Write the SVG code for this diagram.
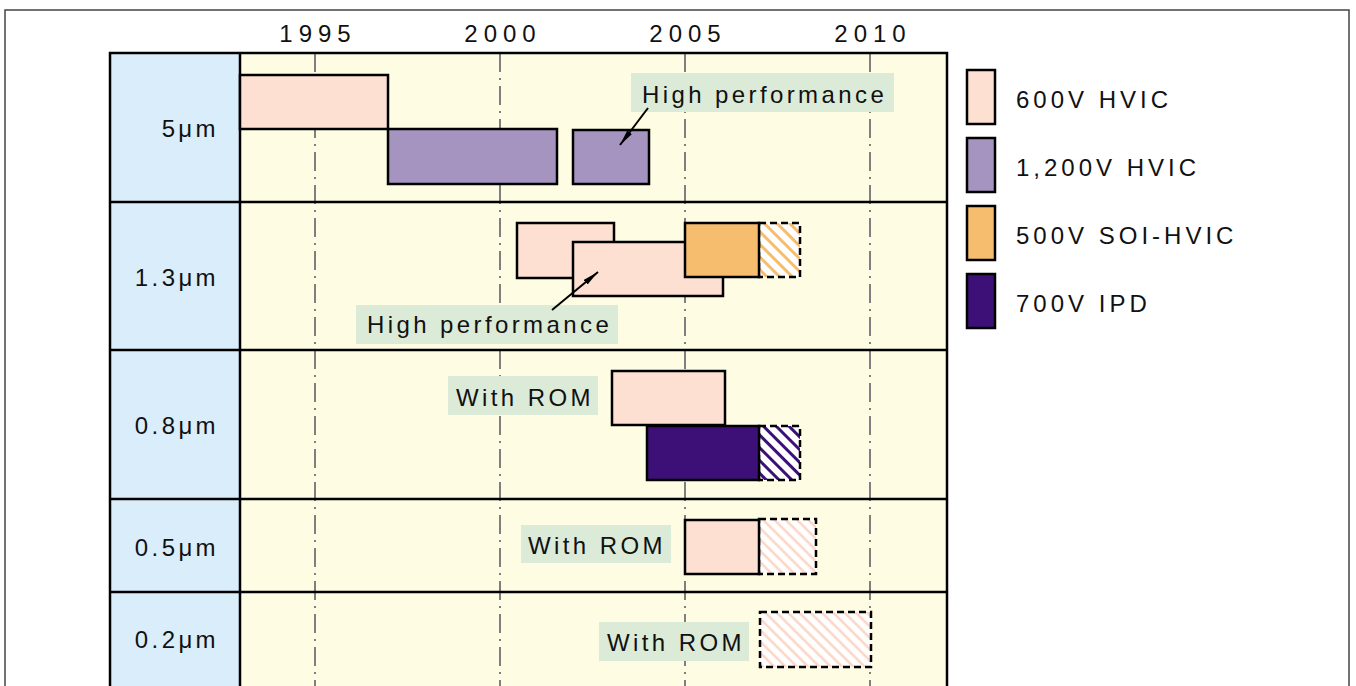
<svg xmlns="http://www.w3.org/2000/svg" width="1356" height="686" viewBox="0 0 1356 686">
<style>
text{font-family:"Liberation Sans",Arial,sans-serif;font-size:24px;fill:#111}
.yr{letter-spacing:6px}
.rl{letter-spacing:3.4px;text-anchor:end}
.lg{letter-spacing:4px}
.lb{letter-spacing:3.4px}
.box{stroke:#000;stroke-width:2.5}
.hat{stroke:#000;stroke-width:2.5;stroke-dasharray:7 4}
.p6{fill:#FDE0D1}
.p12{fill:#A593C0}
.soi{fill:#F6BD6E}
.ipd{fill:#3D1077}
.tag{fill:#DCEBD8}
.grid{stroke:#7f7f7f;stroke-width:2;stroke-dasharray:19 6 2 6}
.rowline{stroke:#000;stroke-width:2.5}
</style>
<defs>
<pattern id="hOr" width="9" height="9" patternUnits="userSpaceOnUse" patternTransform="rotate(45)">
<rect width="9" height="9" fill="#fff"/><line x1="0" y1="4.5" x2="9" y2="4.5" stroke="#F6BD6E" stroke-width="3"/>
</pattern>
<pattern id="hIpd" width="9" height="9" patternUnits="userSpaceOnUse" patternTransform="rotate(45)">
<rect width="9" height="9" fill="#fff"/><line x1="0" y1="4.5" x2="9" y2="4.5" stroke="#3D1077" stroke-width="3"/>
</pattern>
<pattern id="hPk" width="8" height="8" patternUnits="userSpaceOnUse" patternTransform="rotate(45)">
<rect width="8" height="8" fill="#fff"/><line x1="0" y1="4" x2="8" y2="4" stroke="#FAD6C6" stroke-width="2.5"/>
</pattern>
<marker id="ah" viewBox="0 0 16 6" refX="16" refY="3" markerWidth="16" markerHeight="6" markerUnits="userSpaceOnUse" orient="auto">
<path d="M0,0 L16,3 L0,6 z" fill="#000"/>
</marker>
</defs>

<rect x="5" y="10" width="1344" height="700" fill="#fff" stroke="#444" stroke-width="1.5"/>

<g id="table">
<rect x="240" y="53" width="707" height="660" fill="#FEFCE3"/>
<rect x="110" y="53" width="130" height="660" fill="#DAEDFB"/>
<line class="grid" x1="315" y1="53" x2="315" y2="686"/>
<line class="grid" x1="500" y1="53" x2="500" y2="686"/>
<line class="grid" x1="685" y1="53" x2="685" y2="686"/>
<line class="grid" x1="870" y1="53" x2="870" y2="686"/>
<line class="rowline" x1="110" y1="202" x2="947" y2="202"/>
<line class="rowline" x1="110" y1="350" x2="947" y2="350"/>
<line class="rowline" x1="110" y1="499" x2="947" y2="499"/>
<line class="rowline" x1="110" y1="592" x2="947" y2="592"/>
<line class="rowline" x1="240" y1="53" x2="240" y2="690"/>
<rect x="110" y="53" width="837" height="660" fill="none" stroke="#000" stroke-width="2.5"/>
</g>

<g id="years">
<text class="yr" x="318" y="42" text-anchor="middle">1995</text>
<text class="yr" x="503" y="42" text-anchor="middle">2000</text>
<text class="yr" x="688" y="42" text-anchor="middle">2005</text>
<text class="yr" x="873" y="42" text-anchor="middle">2010</text>
</g>

<g id="rowlabels">
<text class="rl" x="219" y="137">5μm</text>
<text class="rl" x="219" y="286">1.3μm</text>
<text class="rl" x="219" y="434">0.8μm</text>
<text class="rl" x="219" y="556">0.5μm</text>
<text class="rl" x="219" y="648">0.2μm</text>
</g>

<g id="row-5um">
<rect class="box p6" x="240" y="75" width="148" height="54"/>
<rect class="box p12" x="388" y="129" width="169" height="55"/>
<rect class="box p12" x="573" y="130" width="76" height="54"/>
<rect class="tag" x="631" y="73" width="263" height="39"/>
<text class="lb" x="642" y="103">High performance</text>
</g>

<g id="row-13um">
<rect class="hat" x="759" y="223" width="41" height="54" fill="url(#hOr)"/>
<rect class="box p6" x="517" y="223" width="97" height="55"/>
<rect class="box p6" x="573" y="242" width="150" height="54"/>
<rect class="box soi" x="685" y="223" width="74" height="54"/>
<rect class="tag" x="356" y="305" width="262" height="39"/>
<text class="lb" x="367" y="333">High performance</text>
</g>

<g id="row-08um">
<rect class="tag" x="448" y="376" width="150" height="39"/>
<text class="lb" x="456" y="406">With ROM</text>
<rect class="hat" x="759" y="426" width="41" height="54" fill="url(#hIpd)"/>
<rect class="box p6" x="612" y="371" width="113" height="54"/>
<rect class="box ipd" x="647" y="426" width="112" height="54"/>
</g>

<g id="row-05um">
<rect class="tag" x="521" y="525" width="150" height="38"/>
<text class="lb" x="528" y="554">With ROM</text>
<rect class="hat" x="759" y="519" width="57" height="55" fill="url(#hPk)"/>
<rect class="box p6" x="685" y="520" width="74" height="54"/>
</g>

<g id="row-02um">
<rect class="tag" x="599" y="622" width="150" height="39"/>
<text class="lb" x="607" y="651">With ROM</text>
<rect class="hat" x="760" y="612" width="111" height="55" fill="url(#hPk)"/>
</g>

<g id="connectors" stroke="#000" stroke-width="2" fill="none">
<line x1="648" y1="108" x2="620" y2="145" marker-end="url(#ah)"/>
<line x1="552" y1="310" x2="598" y2="272" marker-end="url(#ah)"/>
</g>

<g id="legend">
<rect class="box p6" x="967" y="70" width="28" height="54"/>
<text class="lg" x="1016" y="108">600V HVIC</text>
<rect class="box p12" x="967" y="138" width="28" height="54"/>
<text class="lg" x="1016" y="176">1,200V HVIC</text>
<rect class="box soi" x="967" y="206" width="28" height="54"/>
<text class="lg" x="1016" y="244">500V SOI-HVIC</text>
<rect class="box ipd" x="967" y="274" width="28" height="54"/>
<text class="lg" x="1016" y="312">700V IPD</text>
</g>
</svg>
